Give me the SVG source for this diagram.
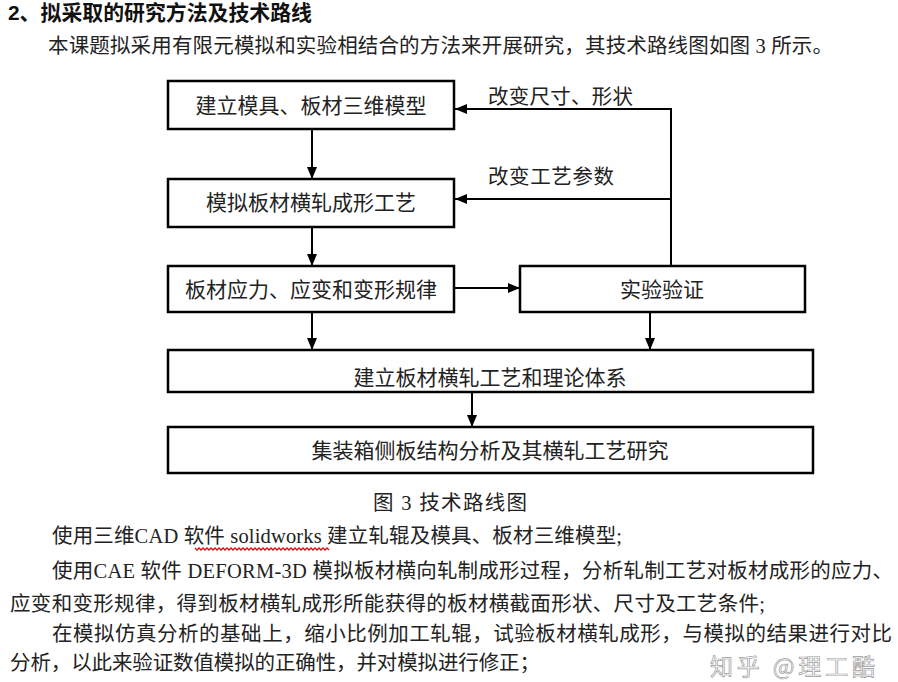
<svg xmlns="http://www.w3.org/2000/svg" width="898" height="682" viewBox="0 0 898 682">
<style>
.box{fill:#fff;stroke:#000;stroke-width:2.5}
.bt{font-family:"Liberation Serif","Noto Sans CJK SC",serif;font-size:21px;fill:#222;text-anchor:middle}
.lbl{font-family:"Liberation Serif","Noto Sans CJK SC",serif;font-size:20.5px;fill:#222}
.body{font-family:"Liberation Serif","Noto Sans CJK SC",serif;font-size:20.5px;fill:#222}
.head{font-family:"Liberation Sans","Noto Sans CJK SC",sans-serif;font-size:21px;font-weight:bold;fill:#111}
.con{fill:none;stroke:#000;stroke-width:2}
</style>
<defs>
<marker id="ah" viewBox="0 0 12 10" refX="12" refY="5" markerWidth="12" markerHeight="10" markerUnits="userSpaceOnUse" orient="auto">
<path d="M0,0 L12,5 L0,10 Z" fill="#000"/>
</marker>
</defs>
<rect width="898" height="682" fill="#fff"/>
<text class="head" x="8" y="20" textLength="304" lengthAdjust="spacingAndGlyphs">2、拟采取的研究方法及技术路线</text>
<text class="body" x="48" y="53" textLength="785" lengthAdjust="spacing">本课题拟采用有限元模拟和实验相结合的方法来开展研究，其技术路线图如图 3 所示。</text>

<g id="connectors">
<path class="con" d="M312,129 V179" marker-end="url(#ah)"/>
<path class="con" d="M312,227 V266" marker-end="url(#ah)"/>
<path class="con" d="M312,312 V350" marker-end="url(#ah)"/>
<path class="con" d="M650,312 V350" marker-end="url(#ah)"/>
<path class="con" d="M472,392 V427" marker-end="url(#ah)"/>
<path class="con" d="M454,288 H520" marker-end="url(#ah)"/>
<path class="con" d="M671,266 V109 H455" marker-end="url(#ah)"/>
<path class="con" d="M671,199 H455" marker-end="url(#ah)"/>
<text class="lbl" x="488" y="104" textLength="145" lengthAdjust="spacing">改变尺寸、形状</text>
<text class="lbl" x="488" y="184" textLength="126" lengthAdjust="spacing">改变工艺参数</text>
</g>

<g id="n1"><rect class="box" x="168" y="81" width="286" height="48"/><text class="bt" x="311" y="113">建立模具、板材三维模型</text></g>
<g id="n2"><rect class="box" x="168" y="179" width="286" height="48"/><text class="bt" x="311" y="210">模拟板材横轧成形工艺</text></g>
<g id="n3"><rect class="box" x="168" y="266" width="286" height="46"/><text class="bt" x="311" y="297">板材应力、应变和变形规律</text></g>
<g id="n4"><rect class="box" x="520" y="266" width="285" height="46"/><text class="bt" x="662" y="297">实验验证</text></g>
<g id="n5"><rect class="box" x="168" y="350" width="645" height="42"/><text class="bt" x="490" y="385">建立板材横轧工艺和理论体系</text></g>
<g id="n6"><rect class="box" x="168" y="427" width="645" height="46"/><text class="bt" x="490" y="458">集装箱侧板结构分析及其横轧工艺研究</text></g>

<text class="body" x="373" y="510" textLength="154" lengthAdjust="spacing">图 3 技术路线图</text>
<text class="body" x="52" y="543" textLength="570" lengthAdjust="spacing">使用三维CAD 软件 solidworks 建立轧辊及模具、板材三维模型;</text>
<path d="M195,548 l2,2 l2,-2 l2,2 l2,-2 l2,2 l2,-2 l2,2 l2,-2 l2,2 l2,-2 l2,2 l2,-2 l2,2 l2,-2 l2,2 l2,-2 l2,2 l2,-2 l2,2 l2,-2 l2,2 l2,-2 l2,2 l2,-2 l2,2 l2,-2 l2,2 l2,-2 l2,2 l2,-2 l2,2 l2,-2 l2,2 l2,-2 l2,2 l2,-2 l2,2 l2,-2 l2,2 l2,-2 l2,2 l2,-2 l2,2 l2,-2 l2,2 l2,-2 l2,2 l2,-2 l2,2 l2,-2 l2,2 l2,-2 l2,2 l2,-2 l2,2 l2,-2 l2,2 l2,-2 l2,2 l2,-2 l2,2 l2,-2 l2,2 l2,-2 l2,2 l2,-2 l2,2" fill="none" stroke="#d01010" stroke-width="1.3"/>
<text class="body" x="52" y="578" textLength="841" lengthAdjust="spacing">使用CAE 软件 DEFORM-3D 模拟板材横向轧制成形过程，分析轧制工艺对板材成形的应力、</text>
<text class="body" x="10" y="611" textLength="755" lengthAdjust="spacing">应变和变形规律，得到板材横轧成形所能获得的板材横截面形状、尺寸及工艺条件;</text>
<text class="body" x="52" y="641" textLength="840" lengthAdjust="spacing">在模拟仿真分析的基础上，缩小比例加工轧辊，试验板材横轧成形，与模拟的结果进行对比</text>
<text class="body" x="10" y="670" textLength="530" lengthAdjust="spacing">分析，以此来验证数值模拟的正确性，并对模拟进行修正；</text>
<text x="710" y="675" font-family="Noto Sans CJK SC, sans-serif" font-size="23" fill="#fff" fill-opacity="0.75" stroke="#9a9a9a" stroke-width="0.7" textLength="165" lengthAdjust="spacing">知乎 @理工酷</text>
</svg>
